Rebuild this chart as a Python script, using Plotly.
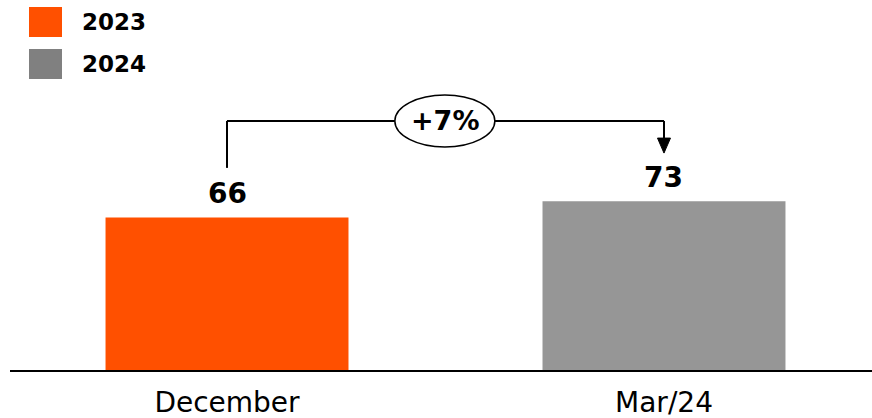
import plotly.graph_objects as go

# Data
categories = ["December", "Mar/24"]
series_names = ["2023", "2024"]
values = [66, 73]
bar_colors = ["#FF5000", "#969696"]
legend_colors = ["#FF5000", "#808080"]
change_label = "+7%"

W, H = 872, 418
ML, MR, MT, MB = 10, 0, 0, 48
plot_w = W - ML - MR
plot_h = H - MT - MB
y_max = 160.0
x_lo, x_hi = -0.4966, 1.476

unit_y = plot_h / y_max              # pixels per value unit
unit_x = plot_w / (x_hi - x_lo)      # pixels per category step

xs = list(range(len(categories)))

fig = go.Figure()
fig.add_trace(go.Bar(
    x=xs, y=values, width=0.556,
    marker=dict(color=bar_colors, line=dict(width=0)),
    hoverinfo="skip", showlegend=False,
))

# Value labels above bars
for xi, v in zip(xs, values):
    fig.add_annotation(x=xi, y=v, text=f"<b>{v}</b>", showarrow=False,
                       yanchor="middle", yshift=24,
                       font=dict(family="DejaVu Sans", size=28, color="black"))

# Growth bracket from first bar to second bar
line_y = values[0] + 41.7
left_bottom = values[0] + 21.4
tip_y = values[1] + 20.8
head_h = 15 / unit_y
head_hw = 6.5 / unit_x
ell_hw = 50 / unit_x
ell_hh = 26 / unit_y
mid_x = 0.4985
blk = dict(color="black", width=2)

fig.add_shape(type="line", x0=xs[0], x1=xs[0], y0=left_bottom, y1=line_y, line=blk)
fig.add_shape(type="line", x0=xs[0], x1=xs[1], y0=line_y, y1=line_y, line=blk)
fig.add_shape(type="line", x0=xs[1], x1=xs[1], y0=line_y, y1=tip_y + head_h, line=blk)
fig.add_shape(type="path",
              path=f"M {xs[1]-head_hw},{tip_y+head_h} L {xs[1]+head_hw},{tip_y+head_h} L {xs[1]},{tip_y} Z",
              fillcolor="black", line=dict(color="black", width=1))
fig.add_shape(type="circle", x0=mid_x - ell_hw, x1=mid_x + ell_hw,
              y0=line_y - ell_hh, y1=line_y + ell_hh,
              fillcolor="white", line=dict(color="black", width=1.5))
fig.add_annotation(x=mid_x, y=line_y, text=f"<b>{change_label}</b>", showarrow=False,
                   yanchor="middle", font=dict(family="DejaVu Sans", size=27, color="black"))

# Legend drawn as swatches and labels in paper coordinates
def px_to_paper_x(px):
    return (px - ML) / plot_w

def px_to_paper_y(py):
    return (MT + plot_h - py) / plot_h

sw_top = [7, 49]
for name, col, top in zip(series_names, legend_colors, sw_top):
    fig.add_shape(type="rect", xref="paper", yref="paper",
                  x0=px_to_paper_x(29), x1=px_to_paper_x(62),
                  y0=px_to_paper_y(top + 30), y1=px_to_paper_y(top),
                  fillcolor=col, line=dict(width=0))
    fig.add_annotation(xref="paper", yref="paper",
                       x=px_to_paper_x(80), y=px_to_paper_y(top + 15),
                       xanchor="left", yanchor="middle", showarrow=False,
                       text=f"<b>{name}</b>",
                       font=dict(family="DejaVu Sans", size=23, color="black"))

fig.update_layout(
    width=W, height=H,
    margin=dict(l=ML, r=MR, t=MT, b=MB),
    paper_bgcolor="white", plot_bgcolor="white",
    showlegend=False,
    xaxis=dict(range=[x_lo, x_hi], tickvals=xs, ticktext=categories,
               showline=True, linecolor="black", linewidth=2,
               showgrid=False, zeroline=False, ticks="",
               ticklabelstandoff=6,
               tickfont=dict(family="DejaVu Sans", size=28, color="black"),
               fixedrange=True),
    yaxis=dict(range=[0, y_max], visible=False, showgrid=False,
               zeroline=False, fixedrange=True),
)

fig.write_html("out.html")
